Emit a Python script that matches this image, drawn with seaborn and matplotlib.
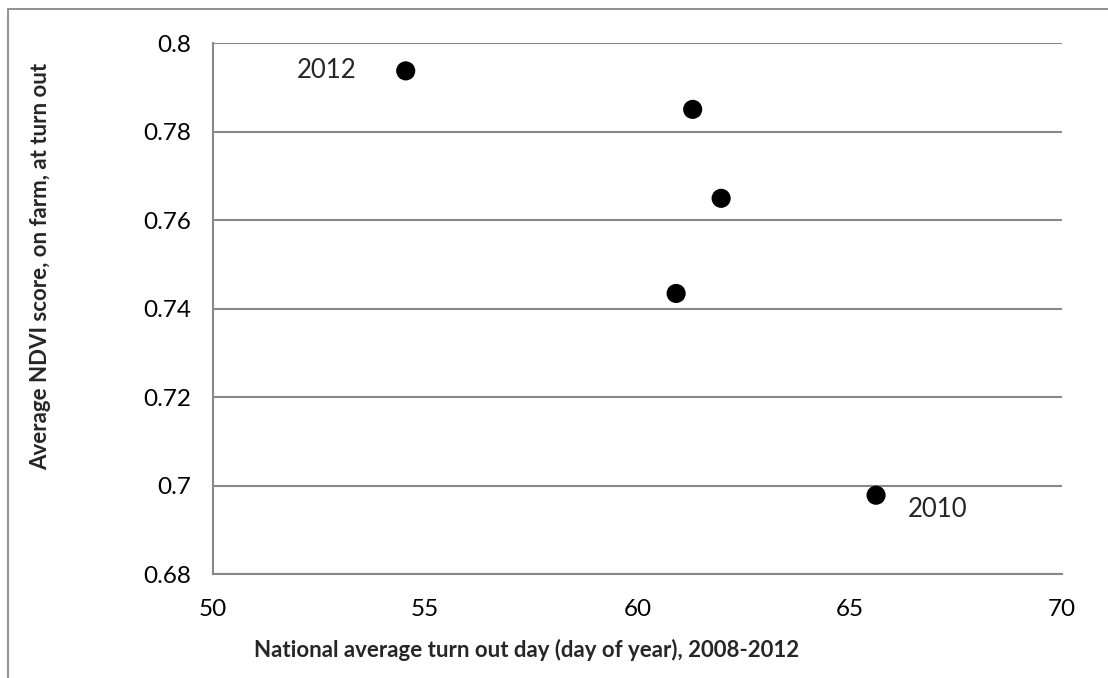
import matplotlib
matplotlib.use("Agg")
import matplotlib.pyplot as plt
import seaborn as sns
import pandas as pd
from matplotlib.patches import Rectangle

# values
turnout_day = [54.54, 61.30, 61.97, 60.91, 65.62]
ndvi = [0.7937, 0.7850, 0.7649, 0.7434, 0.6978]
point_labels = ["2012", "", "", "", "2010"]
x_ticks = [50, 55, 60, 65, 70]
y_ticks = [0.68, 0.70, 0.72, 0.74, 0.76, 0.78, 0.80]
y_tick_labels = ["0.68", "0.7", "0.72", "0.74", "0.76", "0.78", "0.8"]

df = pd.DataFrame({"day": turnout_day, "ndvi": ndvi, "label": point_labels})

sns.set_style("white")
plt.rcParams['font.family'] = ['Lato', 'DejaVu Sans']

grey = '#888888'
fig = plt.figure(figsize=(11.08, 6.78), dpi=100)
ax = fig.add_axes([213 / 1108, 1 - 574 / 678, (1062 - 213) / 1108, (574 - 43) / 678])

sns.scatterplot(data=df, x="day", y="ndvi", ax=ax, color='black', s=190,
                edgecolor='none', zorder=3, clip_on=False)

# year labels next to the first and last points
ax.annotate(df.label[0], (df.day[0], df.ndvi[0]), xytext=(-57, 0),
            textcoords='offset points', ha='center', va='center', fontsize=18.5)
ax.annotate(df.label[4], (df.day[4], df.ndvi[4]), xytext=(44, -10),
            textcoords='offset points', ha='center', va='center', fontsize=18.5)

ax.set_xlim(50, 70)
ax.set_ylim(0.68, 0.80)
ax.set_xticks(x_ticks)
ax.set_xticklabels([str(t) for t in x_ticks], fontsize=17.5)
ax.set_yticks(y_ticks)
ax.set_yticklabels(y_tick_labels, fontsize=17.5)
ax.yaxis.grid(True, color=grey, lw=1.5)
ax.xaxis.grid(False)
ax.set_axisbelow(True)
for side in ['top', 'right']:
    ax.spines[side].set_visible(False)
for side in ['left', 'bottom']:
    ax.spines[side].set_color(grey)
    ax.spines[side].set_linewidth(1.5)
ax.tick_params(axis='both', direction='out', length=6, width=1.5, color=grey,
               labelcolor='black')
ax.tick_params(axis='x', pad=12)
ax.tick_params(axis='y', pad=10)
ax.set_xlabel("")
ax.set_ylabel("")

fig.text(527 / 1108, 1 - 650 / 678, "National average turn out day (day of year), 2008-2012",
         ha='center', va='center', fontsize=16, fontweight='bold')
fig.text(41 / 1108, 1 - 266 / 678, "Average NDVI score, on farm, at turn out",
         ha='center', va='center', rotation=90, fontsize=16, fontweight='bold')

# chart area border (only top and left edges fall inside the image)
fig.patches.append(Rectangle((8 / 1108, -0.1), 1.2, 1 - 9 / 678 + 0.1,
                             transform=fig.transFigure, fill=False,
                             edgecolor=grey, lw=1.3))

fig.savefig("out.png", dpi=100)
